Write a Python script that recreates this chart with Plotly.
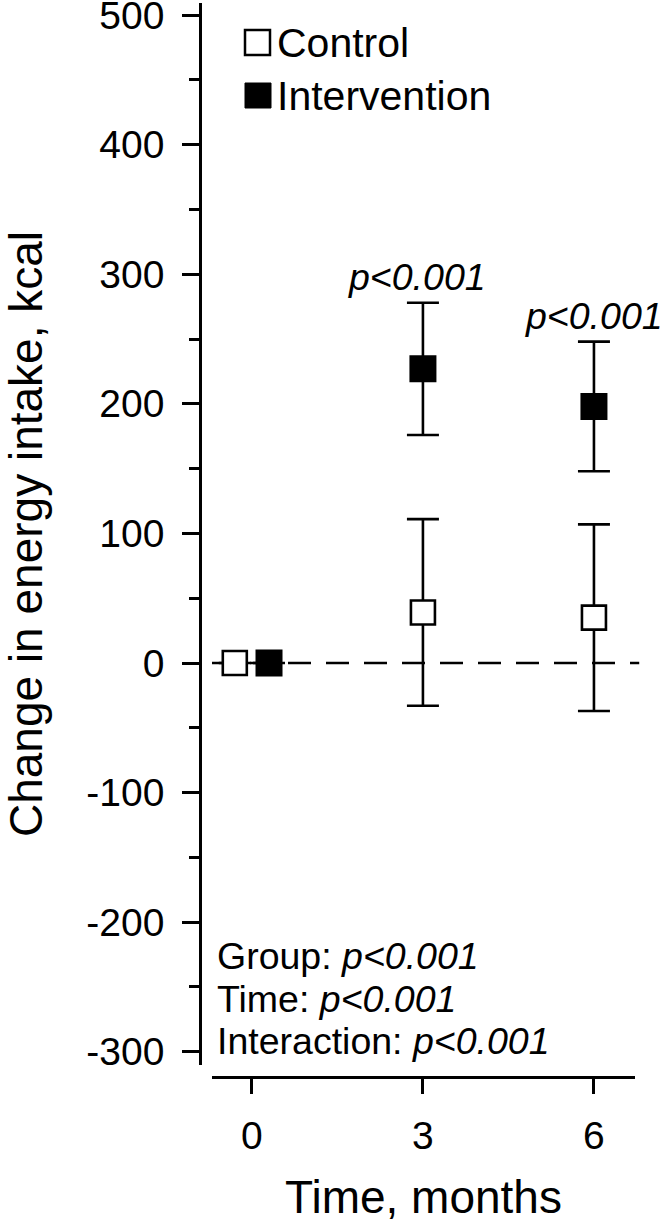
import plotly.graph_objects as go

# ---------------- data ----------------
time_months = [0, 3, 6]
control_mean = [0, 39, 35]
control_err = [None, 72, 72]
intervention_mean = [0, 227, 198]
intervention_err = [None, 51, 50]
pair_labels = ["p<0.001", "p<0.001"]  # at months 3 and 6
stats_labels = ["Group:", "Time:", "Interaction:"]
stats_p = ["p<0.001", "p<0.001", "p<0.001"]
y_ticks = [-300, -200, -100, 0, 100, 200, 300, 400, 500]
x_ticks = [0, 3, 6]

# ---------------- layout helpers ----------------
W, H = 663, 1223
FONT = "Liberation Sans, Arial, Helvetica, sans-serif"


def px_x(p):
    return p / W


def px_y(p):
    return 1 - p / H


baseline_offset = 0.3  # horizontal dodge at baseline only
ctrl_x = [t - baseline_offset if t == 0 else t for t in time_months]
int_x = [t + baseline_offset if t == 0 else t for t in time_months]

AXW = 2.7

fig = go.Figure()

fig.add_trace(go.Scatter(
    x=ctrl_x, y=control_mean, mode="markers", name="Control",
    marker=dict(symbol="square", size=24, color="white",
                line=dict(color="black", width=2.6)),
    error_y=dict(type="data", array=control_err, visible=True,
                 color="black", thickness=2.6, width=16),
    showlegend=False,
))
fig.add_trace(go.Scatter(
    x=int_x, y=intervention_mean, mode="markers", name="Intervention",
    marker=dict(symbol="square", size=25, color="black",
                line=dict(color="black", width=2)),
    error_y=dict(type="data", array=intervention_err, visible=True,
                 color="black", thickness=2.6, width=16),
    showlegend=False,
))

annotations = []
# p-values above intervention error bars at months 3 and 6
for t, m, e, lab, xs in zip(time_months[1:], intervention_mean[1:],
                            intervention_err[1:], pair_labels, [-6, 0]):
    annotations.append(dict(
        x=t, y=m + e, xref="x", yref="y", text="<i>" + lab.replace("<", "&lt;") + "</i>",
        showarrow=False, xanchor="center", yanchor="bottom", yshift=3, xshift=xs,
        font=dict(family=FONT, size=37.5, color="black"),
    ))

# stats block
stats_y_px = [956, 999, 1041]
for lab, p, yp in zip(stats_labels, stats_p, stats_y_px):
    annotations.append(dict(
        x=px_x(215), y=px_y(yp), xref="paper", yref="paper",
        text=lab + " <i>" + p.replace("<", "&lt;") + "</i>",
        showarrow=False, xanchor="left", yanchor="middle",
        font=dict(family=FONT, size=37.5, color="black"),
    ))

# legend text
for lab, yp in [("Control", 43), ("Intervention", 96)]:
    annotations.append(dict(
        x=px_x(275), y=px_y(yp), xref="paper", yref="paper", text=lab,
        showarrow=False, xanchor="left", yanchor="middle",
        font=dict(family=FONT, size=41, color="black"),
    ))

shapes = [
    # zero reference line
    dict(type="line", xref="x domain", x0=0, x1=1.01, yref="y", y0=0, y1=0,
         line=dict(color="black", width=2.6, dash="23px,15px"), layer="below"),
    # legend keys
    dict(type="rect", xref="paper", yref="paper",
         x0=px_x(245), x1=px_x(270), y0=px_y(55), y1=px_y(30),
         line=dict(color="black", width=2.5), fillcolor="white"),
    dict(type="rect", xref="paper", yref="paper",
         x0=px_x(245), x1=px_x(271), y0=px_y(108), y1=px_y(83),
         line=dict(color="black", width=1), fillcolor="black"),
]

fig.update_layout(
    template="none",
    width=W, height=H, autosize=False,
    margin=dict(l=0, r=0, t=0, b=0, pad=0),
    paper_bgcolor="white", plot_bgcolor="white",
    font=dict(family=FONT, color="black"),
    showlegend=False,
    annotations=annotations,
    shapes=shapes,
    xaxis=dict(
        domain=[px_x(212), px_x(635)], range=[-0.70, 6.72],
        anchor="free", position=px_y(1077),
        showline=True, linecolor="black", linewidth=AXW,
        showgrid=False, zeroline=False,
        tickmode="array", tickvals=x_ticks, ticktext=[str(v) for v in x_ticks],
        ticks="outside", ticklen=15, tickwidth=AXW, tickcolor="black",
        ticklabelstandoff=8,
        tickfont=dict(family=FONT, size=39, color="black"),
        title=dict(text="Time, months", font=dict(family=FONT, size=46, color="black"),
                   standoff=26),
        automargin=False,
    ),
    yaxis=dict(
        domain=[px_y(1065), px_y(3)], range=[-310.2, 509.3],
        anchor="free", position=px_x(200),
        showline=True, linecolor="black", linewidth=AXW,
        showgrid=False, zeroline=False,
        tickmode="array", tickvals=y_ticks, ticktext=[str(v) for v in y_ticks],
        ticks="outside", ticklen=17, tickwidth=AXW, tickcolor="black",
        ticklabelstandoff=10, ticklabeloverflow="allow",
        minor=dict(dtick=50, tick0=0, ticks="outside", ticklen=10,
                   tickwidth=AXW, tickcolor="black", showgrid=False),
        tickfont=dict(family=FONT, size=39, color="black"),
        title=dict(text="Change in energy intake, kcal",
                   font=dict(family=FONT, size=46, color="black"), standoff=45),
        automargin=False,
    ),
)

fig.write_html("out.html")
